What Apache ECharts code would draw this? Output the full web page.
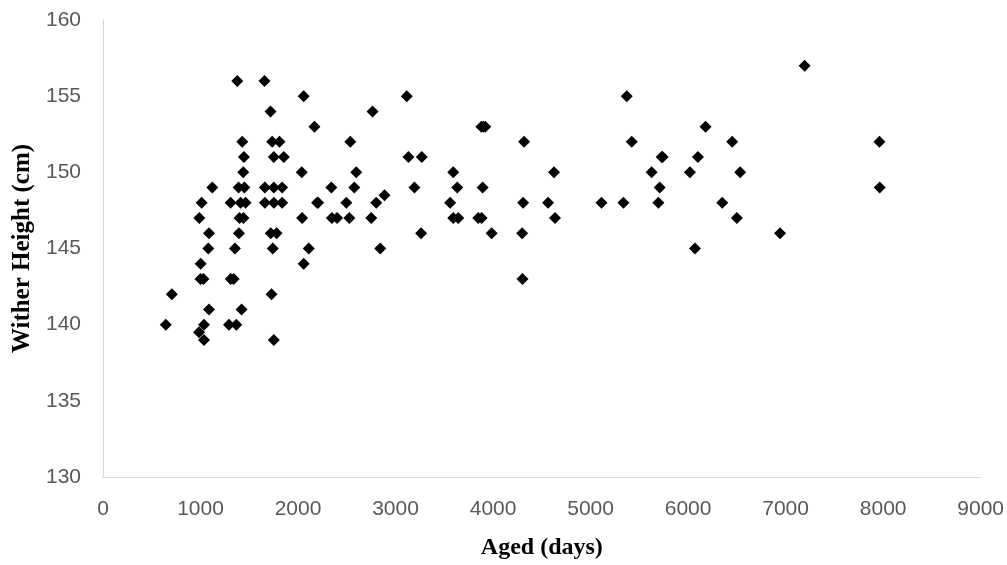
<!DOCTYPE html>
<html>
<head>
<meta charset="utf-8">
<script src="https://cdn.jsdelivr.net/npm/echarts@6/dist/echarts.min.js"></script>
<style>
  html, body { margin: 0; padding: 0; background: #ffffff; }
  #chart_witherHeight { width: 1007px; height: 565px; }
</style>
</head>
<body>
<div id="chart_witherHeight"></div>
<script>
// age in days
const ageDays = [
  644, 706, 985, 988, 1002, 1000, 1030, 1012, 1036, 1036, 1080, 1087, 1087, 1121,
  1292, 1309, 1310, 1340, 1353, 1367, 1377, 1390, 1394, 1400, 1411, 1421, 1428,
  1438, 1440, 1445, 1450, 1462,
  1656, 1660, 1660, 1718, 1720, 1728, 1735, 1741, 1752, 1752, 1752, 1752, 1780,
  1810, 1837, 1837, 1854,
  2038, 2042, 2058, 2058, 2110, 2168, 2195, 2206, 2342, 2348, 2400, 2495, 2526,
  2536, 2577, 2597, 2751, 2764, 2802, 2843, 2887, 3115, 3132, 3194, 3262, 3269,
  3560, 3592, 3592, 3633, 3643, 3848, 3880, 3883, 3893, 3899, 3920, 3985,
  4298, 4302, 4308, 4318, 4564, 4625, 4635, 5112, 5337, 5371, 5422, 5626,
  5695, 5709, 5729, 5739, 6019, 6070, 6101, 6179, 6350, 6452, 6500, 6534,
  6943, 7195, 7962, 7965
]
// wither height in cm
const witherHeight = [
  140, 142, 139.5, 147, 144, 143, 143, 148, 140, 139, 145, 146, 141, 149,
  140, 148, 143, 143, 145, 140, 156, 149, 146, 147, 148, 141, 152,
  150, 147, 151, 149, 148,
  156, 149, 148, 154, 146, 142, 152, 145, 151, 149, 148, 139, 146,
  152, 149, 148, 151,
  150, 147, 155, 144, 145, 153, 148, 148, 149, 147, 147, 148, 147,
  152, 149, 150, 147, 154, 148, 145, 148.5, 155, 151, 149, 146, 151,
  148, 150, 147, 149, 147, 147, 153, 147, 149, 153, 153, 146,
  146, 143, 148, 152, 148, 150, 147, 148, 148, 155, 152, 150,
  148, 149, 151, 151, 150, 145, 151, 153, 148, 152, 147, 150,
  146, 157, 152, 149
]

const xTicks = [0, 9000, 1000]   // min, max, interval
const yTicks = [130, 160, 5]

let scatterData = ageDays.map((v, i) => [v, witherHeight[i]])

let labelFont = {
  fontFamily: '"Liberation Sans Narrow", "Liberation Sans", sans-serif',
  fontSize: 21,
  color: '#595959'
}

let witherHeightOption = {
  animation: false,
  backgroundColor: '#ffffff',
  grid: {
    left: 103,
    right: 25,
    top: 20,
    bottom: 87
  },
  xAxis: {
    type: 'value',
    min: xTicks[0],
    max: xTicks[1],
    interval: xTicks[2],
    name: 'Aged (days)',
    nameLocation: 'middle',
    nameGap: 59,
    nameTextStyle: {
      fontFamily: 'Liberation Serif',
      fontWeight: 'bold',
      fontSize: 24,
      color: '#000000'
    },
    axisLine: { lineStyle: { color: '#d9d9d9', width: 1 } },
    axisTick: { show: false },
    splitLine: { show: false },
    axisLabel: Object.assign({
      margin: 22,
      formatter: v => String(v)
    }, labelFont)
  },
  yAxis: {
    type: 'value',
    min: yTicks[0],
    max: yTicks[1],
    interval: yTicks[2],
    name: 'Wither Height (cm)',
    nameLocation: 'middle',
    nameGap: 64,
    nameTextStyle: {
      fontFamily: 'Liberation Serif',
      fontWeight: 'bold',
      fontSize: 25,
      color: '#000000'
    },
    axisLine: { show: true, lineStyle: { color: '#d9d9d9', width: 1 } },
    axisTick: { show: false },
    splitLine: { show: false },
    axisLabel: Object.assign({
      margin: 22
    }, labelFont)
  },
  series: [
    {
      type: 'scatter',
      symbol: 'diamond',
      symbolSize: 12,
      itemStyle: { color: '#000000', opacity: 1 },
      data: scatterData
    }
  ]
}

let chart_witherHeight = echarts.init(document.getElementById('chart_witherHeight'))
chart_witherHeight.setOption(witherHeightOption)
</script>
</body>
</html>
